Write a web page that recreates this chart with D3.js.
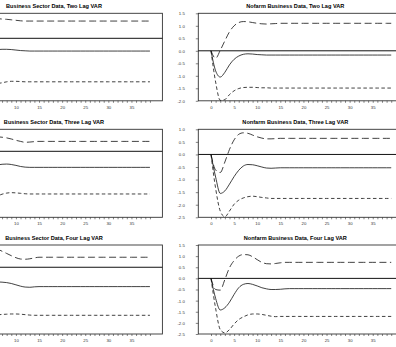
<!DOCTYPE html>
<html>
  <head>
    <title>VAR impulse responses</title>
    <script src="https://d3js.org/d3.v7.min.js"></script>
    <style>
      body { margin: 0; background: #fff; }
      text { font-family: "Liberation Sans", Arial, sans-serif; }
    </style>
  </head>
  <body>
    <div id="chart"></div>
    <script>
// Panel titles (left column, right column)
const titles = [
  "Business Sector Data, Two Lag VAR", "Nofarm Business Data, Two Lag VAR",
  "Business Sector Data, Three Lag VAR", "Nonfarm Business Data, Three Lag VAR",
  "Business Sector Data, Four Lag VAR", "Nonfarm Business Data, Four Lag VAR"
];

// x tick values and labels
const xTicks = [0,1,2,3,4,5,6,7,8,9,10,11,12,13,14,15,16,17,18,19,20,21,22,23,24,25,26,27,28,29,30,31,32,33,34,35,36,37,38,39];
const xLabels = [0, 5, 10, 15, 20, 25, 30, 35];

// y tick values per row
const yTicksRow1 = [1.5, 1.0, 0.5, 0.0, -0.5, -1.0, -1.5, -2.0];
const yTicksRow2 = [1.0, 0.5, 0.0, -0.5, -1.0, -1.5, -2.0, -2.5];
const yTicksRow3 = [1.5, 1.0, 0.5, 0.0, -0.5, -1.0, -1.5, -2.0, -2.5];
const yTicksLeft1 = [1.0, 0.5, 0.0, -0.5, -1.0, -1.5, -2.0, -2.5];
const yTicksLeft23 = [1.0, 0.5, 0.0, -0.5, -1.0, -1.5, -2.0, -2.5, -3.0];

// Business sector, two lag VAR (horizons 0..39)
const bsTwoMid = [0,-0.9,-1.1,-0.85,-0.62,-0.5,-0.46,-0.44,-0.44,-0.45,-0.47,-0.49,-0.5,-0.51,-0.51,-0.51,-0.51,-0.51,-0.51,-0.51,-0.51,-0.51,-0.51,-0.51,-0.51,-0.51,-0.51,-0.51,-0.51,-0.51,-0.51,-0.51,-0.51,-0.51,-0.51,-0.51,-0.51,-0.51,-0.51,-0.51];
const bsTwoUp = [0,-0.2,0.3,0.6,0.75,0.8,0.79,0.77,0.76,0.74,0.72,0.7,0.69,0.69,0.69,0.69,0.69,0.69,0.69,0.69,0.69,0.69,0.69,0.69,0.69,0.69,0.69,0.69,0.69,0.69,0.69,0.69,0.69,0.69,0.69,0.69,0.69,0.69,0.69,0.69];
const bsTwoLo = [0,-1.5,-2.2,-2.1,-1.95,-1.86,-1.81,-1.78,-1.74,-1.72,-1.72,-1.73,-1.74,-1.74,-1.74,-1.74,-1.74,-1.74,-1.74,-1.74,-1.74,-1.74,-1.74,-1.74,-1.74,-1.74,-1.74,-1.74,-1.74,-1.74,-1.74,-1.74,-1.74,-1.74,-1.74,-1.74,-1.74,-1.74,-1.74,-1.74];

// Business sector, three lag VAR
const bsThreeMid = [0,-0.9,-1.2,-1.0,-0.8,-0.68,-0.62,-0.59,-0.58,-0.6,-0.64,-0.69,-0.72,-0.73,-0.73,-0.73,-0.73,-0.73,-0.73,-0.73,-0.73,-0.73,-0.73,-0.73,-0.73,-0.73,-0.73,-0.73,-0.73,-0.73,-0.73,-0.73,-0.73,-0.73,-0.73,-0.73,-0.73,-0.73,-0.73,-0.73];
const bsThreeUp = [0,-0.3,0.2,0.5,0.65,0.68,0.66,0.64,0.61,0.56,0.5,0.45,0.41,0.42,0.44,0.45,0.45,0.45,0.45,0.45,0.45,0.45,0.45,0.45,0.45,0.45,0.45,0.45,0.45,0.45,0.45,0.45,0.45,0.45,0.45,0.45,0.45,0.45,0.45,0.45];
const bsThreeLo = [0,-1.6,-2.4,-2.4,-2.2,-2.08,-2.03,-1.95,-1.9,-1.88,-1.89,-1.91,-1.93,-1.94,-1.94,-1.94,-1.94,-1.94,-1.94,-1.94,-1.94,-1.94,-1.94,-1.94,-1.94,-1.94,-1.94,-1.94,-1.94,-1.94,-1.94,-1.94,-1.94,-1.94,-1.94,-1.94,-1.94,-1.94,-1.94,-1.94];

// Business sector, four lag VAR
const bsFourMid = [0,-0.8,-1.0,-0.85,-0.72,-0.67,-0.66,-0.67,-0.69,-0.73,-0.79,-0.85,-0.89,-0.9,-0.88,-0.87,-0.87,-0.87,-0.87,-0.87,-0.87,-0.87,-0.87,-0.87,-0.87,-0.87,-0.87,-0.87,-0.87,-0.87,-0.87,-0.87,-0.87,-0.87,-0.87,-0.87,-0.87,-0.87,-0.87,-0.87];
const bsFourUp = [0,-0.1,0.5,0.85,0.95,0.92,0.82,0.72,0.62,0.52,0.43,0.37,0.36,0.38,0.42,0.45,0.45,0.45,0.45,0.45,0.45,0.45,0.45,0.45,0.45,0.45,0.45,0.45,0.45,0.45,0.45,0.45,0.45,0.45,0.45,0.45,0.45,0.45,0.45,0.45];
const bsFourLo = [0,-1.6,-2.3,-2.3,-2.2,-2.16,-2.14,-2.12,-2.11,-2.1,-2.1,-2.11,-2.13,-2.15,-2.16,-2.16,-2.16,-2.16,-2.16,-2.16,-2.16,-2.16,-2.16,-2.16,-2.16,-2.16,-2.16,-2.16,-2.16,-2.16,-2.16,-2.16,-2.16,-2.16,-2.16,-2.16,-2.16,-2.16,-2.16,-2.16];

// Nonfarm business, two lag VAR
const nfTwoMid = [0,-0.8,-1.05,-0.86,-0.56,-0.34,-0.21,-0.14,-0.12,-0.13,-0.15,-0.16,-0.17,-0.17,-0.17,-0.17,-0.17,-0.17,-0.17,-0.17,-0.17,-0.17,-0.17,-0.17,-0.17,-0.17,-0.17,-0.17,-0.17,-0.17,-0.17,-0.17,-0.17,-0.17,-0.17,-0.17,-0.17,-0.17,-0.17,-0.17];
const nfTwoUp = [0,-0.3,0.02,0.4,0.76,1.0,1.13,1.17,1.16,1.13,1.1,1.08,1.07,1.08,1.09,1.1,1.1,1.1,1.1,1.1,1.1,1.1,1.1,1.1,1.1,1.1,1.1,1.1,1.1,1.1,1.1,1.1,1.1,1.1,1.1,1.1,1.1,1.1,1.1,1.1];
const nfTwoLo = [0,-1.25,-1.98,-1.95,-1.75,-1.6,-1.51,-1.47,-1.46,-1.46,-1.47,-1.48,-1.48,-1.49,-1.49,-1.49,-1.49,-1.49,-1.49,-1.49,-1.49,-1.49,-1.49,-1.49,-1.49,-1.49,-1.49,-1.49,-1.49,-1.49,-1.49,-1.49,-1.49,-1.49,-1.49,-1.49,-1.49,-1.49,-1.49,-1.49];

// Nonfarm business, three lag VAR
const nfThreeMid = [0,-0.9,-1.55,-1.45,-1.18,-0.88,-0.63,-0.46,-0.4,-0.41,-0.45,-0.5,-0.54,-0.55,-0.54,-0.53,-0.53,-0.53,-0.53,-0.53,-0.53,-0.53,-0.53,-0.53,-0.53,-0.53,-0.53,-0.53,-0.53,-0.53,-0.53,-0.53,-0.53,-0.53,-0.53,-0.53,-0.53,-0.53,-0.53,-0.53];
const nfThreeUp = [0,-0.62,-0.72,-0.3,0.2,0.58,0.8,0.86,0.84,0.77,0.7,0.65,0.62,0.62,0.63,0.64,0.64,0.64,0.64,0.64,0.64,0.64,0.64,0.64,0.64,0.64,0.64,0.64,0.64,0.64,0.64,0.64,0.64,0.64,0.64,0.64,0.64,0.64,0.64,0.64];
const nfThreeLo = [0,-1.35,-2.25,-2.48,-2.25,-1.98,-1.82,-1.73,-1.68,-1.66,-1.68,-1.71,-1.73,-1.75,-1.75,-1.75,-1.75,-1.75,-1.75,-1.75,-1.75,-1.75,-1.75,-1.75,-1.75,-1.75,-1.75,-1.75,-1.75,-1.75,-1.75,-1.75,-1.75,-1.75,-1.75,-1.75,-1.75,-1.75,-1.75,-1.75];

// Nonfarm business, four lag VAR
const nfFourMid = [0,-0.9,-1.42,-1.32,-1.07,-0.72,-0.42,-0.27,-0.23,-0.27,-0.34,-0.42,-0.47,-0.5,-0.5,-0.49,-0.47,-0.46,-0.46,-0.46,-0.46,-0.46,-0.46,-0.46,-0.46,-0.46,-0.46,-0.46,-0.46,-0.46,-0.46,-0.46,-0.46,-0.46,-0.46,-0.46,-0.46,-0.46,-0.46,-0.46];
const nfFourUp = [0,-0.5,-0.53,-0.05,0.48,0.8,1.0,1.07,1.06,0.97,0.84,0.72,0.66,0.65,0.67,0.7,0.72,0.72,0.72,0.72,0.72,0.72,0.72,0.72,0.72,0.72,0.72,0.72,0.72,0.72,0.72,0.72,0.72,0.72,0.72,0.72,0.72,0.72,0.72,0.72];
const nfFourLo = [0,-1.35,-2.3,-2.45,-2.3,-2.05,-1.85,-1.73,-1.64,-1.6,-1.6,-1.62,-1.66,-1.7,-1.72,-1.71,-1.71,-1.71,-1.71,-1.71,-1.71,-1.71,-1.71,-1.71,-1.71,-1.71,-1.71,-1.71,-1.71,-1.71,-1.71,-1.71,-1.71,-1.71,-1.71,-1.71,-1.71,-1.71,-1.71,-1.71];

// Layout
const width = 396;
const height = 347;
const colLeft = [-43, 198.3];
const boxW = 205.4;
const rowTop = [13.3, 129.3, 245];
const rowBottom = [100.8, 217.3, 334];

const panels = [
  { row: 0, col: 0, dom: [-2.5, 1.0], yt: yTicksLeft1, s: [bsTwoMid, bsTwoUp, bsTwoLo] },
  { row: 0, col: 1, dom: [-2.0, 1.5], yt: yTicksRow1, s: [nfTwoMid, nfTwoUp, nfTwoLo] },
  { row: 1, col: 0, dom: [-3.0, 1.0], yt: yTicksLeft23, s: [bsThreeMid, bsThreeUp, bsThreeLo] },
  { row: 1, col: 1, dom: [-2.5, 1.0], yt: yTicksRow2, s: [nfThreeMid, nfThreeUp, nfThreeLo] },
  { row: 2, col: 0, dom: [-3.0, 1.0], yt: yTicksLeft23, s: [bsFourMid, bsFourUp, bsFourLo] },
  { row: 2, col: 1, dom: [-2.5, 1.5], yt: yTicksRow3, s: [nfFourMid, nfFourUp, nfFourLo] }
];

const svg = d3.select("#chart").append("svg")
  .attr("width", width)
  .attr("height", height)
  .attr("viewBox", [0, 0, width, height]);

const dashes = [null, "7,3.5", "3.5,2.5"];

panels.forEach((p, i) => {
  const left = colLeft[p.col];
  const top = rowTop[p.row];
  const bottom = rowBottom[p.row];

  const x = d3.scaleLinear().domain([-2.75, 41.7]).range([left, left + boxW]);
  const y = d3.scaleLinear().domain(p.dom).range([bottom, top]);

  const g = svg.append("g");

  // title
  g.append("text")
    .attr("x", left + 97)
    .attr("y", top - 5.3)
    .attr("text-anchor", "middle")
    .style("font-size", "5.6px")
    .style("font-weight", "bold")
    .text(titles[i]);

  // frame
  g.append("rect")
    .attr("x", left)
    .attr("y", top)
    .attr("width", boxW)
    .attr("height", bottom - top)
    .attr("fill", "none")
    .attr("stroke", "#333")
    .attr("stroke-width", 0.9);

  // zero line
  g.append("line")
    .attr("x1", left).attr("x2", left + boxW)
    .attr("y1", y(0)).attr("y2", y(0))
    .attr("stroke", "#111")
    .attr("stroke-width", 1);

  // y axis (left column's axis sits off the page, so only the right one is drawn)
  if (p.col === 1) {
    const ya = g.append("g")
      .attr("transform", `translate(${left},0)`)
      .call(d3.axisLeft(y).tickValues(p.yt).tickSize(2.5).tickPadding(11)
        .tickFormat(d => d.toFixed(1)));
    ya.select(".domain").remove();
    ya.selectAll("line").attr("stroke", "#333").attr("stroke-width", 0.6);
    ya.selectAll("text").style("font-size", "4.3px").attr("fill", "#333")
      .style("font-family", "'Liberation Sans', Arial, sans-serif");
  }

  // x axis
  const xa = g.append("g")
    .attr("transform", `translate(0,${bottom})`)
    .call(d3.axisBottom(x).tickValues(xTicks).tickSize(2).tickPadding(3)
      .tickFormat(d => xLabels.includes(d) ? d : ""));
  xa.select(".domain").remove();
  xa.selectAll("line").attr("stroke", "#333").attr("stroke-width", 0.6);
  xa.selectAll("text").style("font-size", "4.3px").attr("fill", "#333")
    .style("font-family", "'Liberation Sans', Arial, sans-serif");
  // drop labels that fall off the page
  xa.selectAll(".tick").filter(d => x(d) < 4).select("text").remove();

  // response and bands
  const line = d3.line()
    .x((d, h) => x(h))
    .y(d => y(d))
    .curve(d3.curveMonotoneX);

  p.s.forEach((vals, k) => {
    g.append("path")
      .datum(vals)
      .attr("fill", "none")
      .attr("stroke", "#111")
      .attr("stroke-width", 0.8)
      .attr("stroke-dasharray", dashes[k])
      .attr("d", line);
  });
});
    </script>
  </body>
</html>
